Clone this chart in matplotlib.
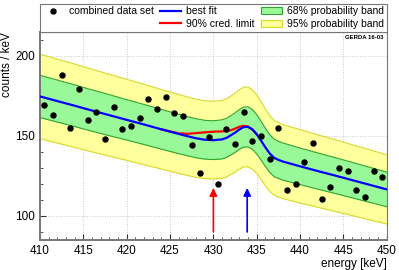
# GERDA 16-03 style spectrum: data, best fit, 90% limit and probability bands

import numpy as np
import matplotlib.pyplot as plt
from matplotlib.lines import Line2D
from matplotlib.patches import Patch
from matplotlib.ticker import MultipleLocator

plt.rcParams['font.family'] = ['Liberation Sans', 'DejaVu Sans']

# combined data set (counts / keV per 1 keV bin)
data_energy = [410.5, 411.5, 412.5, 413.5, 414.5, 415.5, 416.5, 417.5, 418.5, 419.5,
               420.5, 421.5, 422.5, 423.5, 424.5, 425.5, 426.5, 427.5, 428.5, 429.5,
               430.5, 431.5, 432.5, 433.5, 434.5, 435.5, 436.5, 437.5, 438.5, 439.5,
               440.5, 441.5, 442.5, 443.5, 444.5, 445.5, 446.5, 447.5, 448.5, 449.5]
data_counts = [169.2, 163.1, 188.1, 155.0, 179.2, 160.0, 165.0, 148.1, 168.1, 154.0,
               156.1, 161.1, 173.1, 166.9, 174.2, 164.2, 162.1, 144.0, 127.1, 149.0,
               120.2, 154.0, 145.2, 164.8, 146.9, 150.2, 135.8, 155.2, 116.2, 120.0,
               133.9, 145.8, 110.8, 118.0, 130.0, 128.1, 116.0, 111.9, 128.1, 124.2]

# best fit curve and band half widths
fit_energy = [410, 412, 414, 416, 418, 420, 422, 424, 426, 427, 428, 429, 430, 431,
              431.5, 432, 432.5, 433, 433.5, 434, 434.5, 435, 435.5, 436, 436.5,
              437, 437.5, 438, 439, 440, 442, 444, 446, 448, 450]
fit_counts = [174.6, 171.7, 168.8, 165.8, 162.9, 160.0, 157.1, 154.1, 151.2, 149.8,
              148.5, 147.6, 147.3, 147.8, 148.7, 150.3, 152.0, 154.0, 155.5, 155.6,
              154.0, 151.0, 147.0, 142.8, 139.0, 136.3, 135.0, 134.0, 132.5, 131.0,
              128.1, 125.3, 122.4, 119.5, 116.6]
band68 = [13.2, 13.1, 13.0, 12.9, 12.8, 12.6, 12.5, 12.4, 12.3, 12.2, 12.2, 12.1,
          12.1, 12.2, 12.2, 12.3, 12.3, 12.4, 12.5, 12.5, 12.4, 12.3, 12.1, 11.9,
          11.8, 11.7, 11.6, 11.6, 11.5, 11.4, 11.3, 11.2, 11.1, 10.9, 10.8]
band95 = [26.4, 26.2, 26.0, 25.8, 25.5, 25.3, 25.1, 24.8, 24.6, 24.5, 24.4, 24.3,
          24.3, 24.3, 24.4, 24.5, 24.7, 24.8, 24.9, 24.9, 24.8, 24.6, 24.2, 23.9,
          23.6, 23.3, 23.2, 23.1, 23.0, 22.9, 22.6, 22.4, 22.1, 21.9, 21.6]

# 90% credible limit curve
limit_energy = [424, 425, 426, 427, 428, 429, 430, 431, 431.5, 432, 432.5, 433,
                433.5, 434, 434.5, 435]
limit_counts = [154.1, 152.8, 151.6, 151.3, 151.7, 152.2, 152.6, 152.8, 153.0,
                153.5, 154.5, 155.7, 156.3, 155.8, 154.0, 151.0]

# arrows: 90% limit position and peak position
arrow_energy = [430.0, 433.9]
arrow_colors = ['red', 'blue']
arrow_from, arrow_to = 90.0, 117.5

fit = np.array(fit_counts)
b68 = np.array(band68)
b95 = np.array(band95)

fig = plt.figure(figsize=(3.99, 2.70), dpi=100)
ax = fig.add_axes([0.1003, 0.111, 0.869, 0.7716])

yel_face, yel_edge = '#ffff9e', '#d8d82a'
grn_face, grn_edge = '#99f999', '#2fa52f'

ax.fill_between(fit_energy, fit - b95, fit + b95, color=yel_face, lw=0, zorder=1)
ax.plot(fit_energy, fit - b95, color=yel_edge, lw=0.8, zorder=1.5)
ax.plot(fit_energy, fit + b95, color=yel_edge, lw=0.8, zorder=1.5)
ax.fill_between(fit_energy, fit - b68, fit + b68, color=grn_face, lw=0, zorder=2)
ax.plot(fit_energy, fit - b68, color=grn_edge, lw=0.8, zorder=2.5)
ax.plot(fit_energy, fit + b68, color=grn_edge, lw=0.8, zorder=2.5)

ax.plot(limit_energy, limit_counts, color='red', lw=1.6, zorder=3)
ax.plot(fit_energy, fit_counts, color='blue', lw=1.6, zorder=4)
ax.plot(data_energy, data_counts, 'o', color='black', ms=3.6, zorder=5)

for e, c in zip(arrow_energy, arrow_colors):
    ax.annotate('', xy=(e, arrow_to), xytext=(e, arrow_from),
                arrowprops=dict(arrowstyle='-|>,head_length=0.45,head_width=0.22',
                                color=c, lw=1.2, shrinkA=0, shrinkB=0),
                zorder=6, annotation_clip=False)

ax.set_xlim(410, 450)
ax.set_ylim(85, 215)
ax.xaxis.set_major_locator(MultipleLocator(5))
ax.xaxis.set_minor_locator(MultipleLocator(1))
ax.yaxis.set_major_locator(MultipleLocator(50))
ax.yaxis.set_minor_locator(MultipleLocator(10))
ax.tick_params(which='both', direction='in', labelsize=8.5, color='#333333')
ax.tick_params(which='major', length=4)
ax.tick_params(which='minor', length=2)
ax.grid(True, which='major', color='#c8c8c8', ls=':', lw=0.7)
ax.set_axisbelow(True)
for s in ax.spines.values():
    s.set_color('#777777')
    s.set_linewidth(0.8)
ax.spines['left'].set_linewidth(1.4)
ax.spines['bottom'].set_linewidth(1.4)

ax.set_xlabel('energy [keV]', fontsize=8.5, loc='right', labelpad=1)
ax.set_ylabel('counts / keV', fontsize=8.5, loc='top', labelpad=2)

ax.text(0.992, 0.985, 'GERDA 16-03', transform=ax.transAxes, ha='right', va='top',
        fontsize=4.3, fontweight='bold')

handles = [Line2D([], [], ls='none', marker='o', color='black', ms=3.6),
           Line2D([], [], alpha=0),
           Line2D([], [], color='blue', lw=1.6),
           Line2D([], [], color='red', lw=1.6),
           Patch(facecolor=grn_face, edgecolor=grn_edge, lw=0.8),
           Patch(facecolor=yel_face, edgecolor=yel_edge, lw=0.8)]
labels = ['combined data set', ' ', 'best fit', '90% cred. limit',
          '68% probability band', '95% probability band']
leg = fig.legend(handles, labels, loc='lower left', ncol=3, mode='expand',
                 bbox_to_anchor=(0.1003, 0.8826, 0.869, 0.1164),
                 borderaxespad=0, fontsize=7.5, fancybox=False, framealpha=1,
                 edgecolor='#777777', handlelength=2.0, handletextpad=0.5,
                 columnspacing=0.8, labelspacing=0.25, borderpad=0.25)
leg.get_frame().set_linewidth(0.8)

fig.savefig('out.png', dpi=100)
